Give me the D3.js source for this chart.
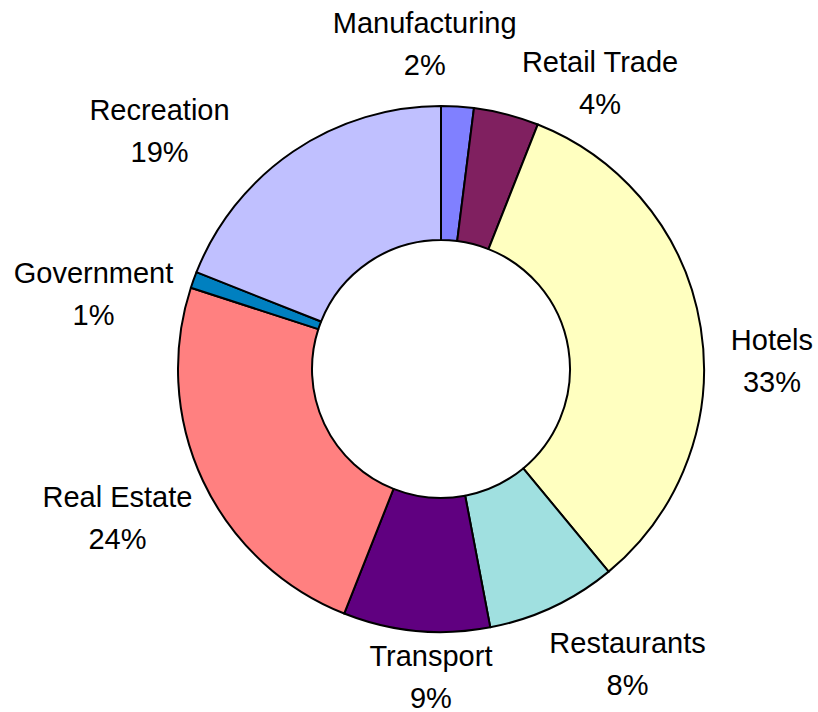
<!DOCTYPE html>
<html>
<head>
<meta charset="utf-8">
<script src="https://cdn.jsdelivr.net/npm/d3@7"></script>
<style>
  html, body { margin: 0; padding: 0; background: #fff; }
  svg { display: block; }
  .lbl { font-family: Arial, "Liberation Sans", sans-serif; font-size: 29px; fill: #000; }
</style>
</head>
<body>
<svg id="chart" width="818" height="712"></svg>
<script>
// sector shares (%), clockwise from 12 o'clock
const sectors = ["Manufacturing", "Retail Trade", "Hotels", "Restaurants", "Transport", "Real Estate", "Government", "Recreation"];
const shares  = [2, 4, 33, 8, 9, 24, 1, 19];
const colours = ["#8080FF", "#802060", "#FFFFC0", "#A0E0E0", "#600080", "#FF8080", "#0080C0", "#C0C0FF"];

(function(){
    const svg = d3.select("#chart");
    const cx = 441, cy = 369;
    const rOuter = 263, rInner = 129, rLabel = 330;

    const data = sectors.map((s, i) => ({ name: s, value: shares[i], colour: colours[i] }));

    const pie = d3.pie().sort(null).value(d => d.value);
    const arc = d3.arc().innerRadius(rInner).outerRadius(rOuter);
    const labelArc = d3.arc().innerRadius(rLabel).outerRadius(rLabel);

    const g = svg.append("g").attr("transform", `translate(${cx},${cy})`);
    const arcs = pie(data);

    g.selectAll("path").data(arcs).enter().append("path")
        .attr("d", arc)
        .attr("fill", d => d.data.colour)
        .attr("stroke", "#000")
        .attr("stroke-width", 2)
        .attr("stroke-linejoin", "round");

    // Excel's outside labels drift a bit from the mid-angle, so nudge each one
    const nudge = {
        "Manufacturing": [-37, -7],
        "Retail Trade":  [77, 23],
        "Hotels":        [5, 33],
        "Restaurants":   [46, -15],
        "Transport":     [21, -32],
        "Real Estate":   [-25, -3],
        "Government":    [-37, 26],
        "Recreation":    [-96, 24]
    };

    const labels = g.selectAll("text.lbl").data(arcs).enter().append("text")
        .attr("class", "lbl")
        .attr("text-anchor", "middle")
        .attr("transform", d => {
            const [x, y] = labelArc.centroid(d);
            const [dx, dy] = nudge[d.data.name];
            return `translate(${x + dx},${y + dy})`;
        });

    labels.append("tspan").attr("x", 0).attr("y", 0).text(d => d.data.name);
    labels.append("tspan").attr("x", 0).attr("y", 42).text(d => d3.format(".0f")(d.data.value) + "%");
})();
</script>
</body>
</html>
